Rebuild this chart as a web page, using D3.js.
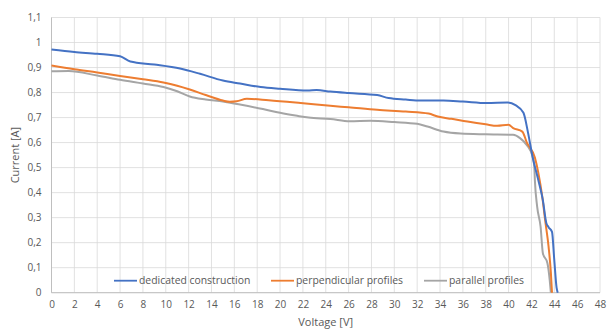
<!DOCTYPE html>
<html><head><meta charset="utf-8">
<script src="https://cdn.jsdelivr.net/npm/d3@7"></script>
<style>body{margin:0;background:#fff}svg{display:block}text{font-family:"Open Sans","Liberation Sans",sans-serif;fill:#595959}</style>
</head><body><svg id="c" width="608" height="329"></svg>
<script>
const seriesNames = ["dedicated construction","perpendicular profiles","parallel profiles"];
const colors = ["#4472C4","#ED7D31","#A5A5A5"];
const xTicks = d3.range(0,49,2);
const yTicks = [0,0.1,0.2,0.3,0.4,0.5,0.6,0.7,0.8,0.9,1,1.1];
const dedicatedV = [0,2,4,6,6.9,9,11.25,13,15,16.5,18.3,20,22.4,23.2,24.4,26,28.5,29.5,31,32.3,34.3,36,38.1,39.9,40.6,41.3,41.7,42.1,42.6,43.0,43.3,43.5,43.8,44.0,44.2,44.3];
const dedicatedI = [0.972,0.962,0.955,0.945,0.924,0.912,0.896,0.875,0.848,0.836,0.822,0.815,0.808,0.810,0.804,0.798,0.790,0.778,0.772,0.768,0.768,0.764,0.758,0.760,0.750,0.719,0.64,0.543,0.45,0.37,0.279,0.262,0.243,0.13,0.02,0];
const perpV = [0,2,4,6,8,9.8,11,12.1,13.5,15,15.6,16.2,17.1,19,21.8,24.4,26,28.5,31,33,33.8,35,36.4,38,39,40,40.4,41.2,41.6,42.3,42.6,42.95,43.2,43.5,43.7,43.8];
const perpI = [0.908,0.893,0.880,0.866,0.853,0.840,0.827,0.812,0.790,0.768,0.763,0.765,0.775,0.769,0.758,0.747,0.741,0.731,0.724,0.716,0.704,0.695,0.684,0.673,0.667,0.671,0.658,0.644,0.6,0.54,0.48,0.383,0.29,0.184,0.08,0];
const paraV = [0,1.5,4,6,8,9.8,11,12.1,13.5,15,16.5,18.5,20,21.5,22.5,24.4,26.1,27.9,30,32,32.9,34.3,35.8,38,40.4,41,41.6,42.1,42.25,42.3,42.5,42.8,43.0,43.4,43.6,43.7];
const paraI = [0.885,0.886,0.868,0.851,0.836,0.822,0.805,0.784,0.772,0.764,0.752,0.734,0.719,0.707,0.700,0.694,0.685,0.687,0.682,0.675,0.664,0.644,0.636,0.633,0.631,0.618,0.59,0.544,0.504,0.45,0.344,0.264,0.158,0.118,0.05,0];

const svg = d3.select("#c");
const L=51.5,R=600,T=17.5,B=292.7;
const x = d3.scaleLinear().domain([0,48]).range([L,R]);
const y = d3.scaleLinear().domain([0,1.1]).range([B,T]);

// grid
svg.append("g").selectAll("line").data(xTicks).join("line")
  .attr("x1",d=>x(d)).attr("x2",d=>x(d)).attr("y1",T).attr("y2",B)
  .attr("stroke","#D9D9D9").attr("stroke-width",0.8);
svg.append("g").selectAll("line").data(yTicks).join("line")
  .attr("x1",L).attr("x2",R).attr("y1",d=>y(d)).attr("y2",d=>y(d))
  .attr("stroke","#D9D9D9").attr("stroke-width",0.8);
svg.append("line").attr("x1",L).attr("x2",L).attr("y1",T).attr("y2",B).attr("stroke","#BFBFBF");
svg.append("line").attr("x1",L).attr("x2",R).attr("y1",B).attr("y2",B).attr("stroke","#BFBFBF");

// axes labels
const xAxis = d3.axisBottom(x).tickValues(xTicks).tickSize(0).tickPadding(8).tickFormat(d=>String(d));
const gx = svg.append("g").attr("transform",`translate(0,${B})`).call(xAxis);
gx.select(".domain").remove();
gx.selectAll("text").style("font-size","10px").style("font-family","'Open Sans',sans-serif").attr("fill","#595959");
const yAxis = d3.axisLeft(y).tickValues(yTicks).tickSize(0).tickPadding(10).tickFormat(d=>d3.format(".1~f")(d).replace(".",","));
const gy = svg.append("g").attr("transform",`translate(${L},0)`).call(yAxis);
gy.select(".domain").remove();
gy.selectAll("text").style("font-size","10px").style("font-family","'Open Sans',sans-serif").attr("fill","#595959");

svg.append("text").attr("x",325.7).attr("y",326).attr("text-anchor","middle").style("font-size","11px").text("Voltage [V]");
svg.append("text").attr("transform",`translate(19,${(T+B)/2}) rotate(-90)`).attr("text-anchor","middle").style("font-size","11px").text("Current [A]");

// lines
const data = [[dedicatedV,dedicatedI],[perpV,perpI],[paraV,paraI]];
const line = d3.line().x(d=>x(d[0])).y(d=>y(d[1])).curve(d3.curveMonotoneX);
[2,1,0].forEach(i=>{
  const pts = data[i][0].map((v,k)=>[v,data[i][1][k]]);
  svg.append("path").datum(pts).attr("d",line).attr("fill","none")
    .attr("stroke",colors[i]).attr("stroke-width",2).attr("stroke-linejoin","round");
});

// legend
const legX = [114,271,424];
const lg = svg.append("g");
seriesNames.forEach((n,i)=>{
  lg.append("line").attr("x1",legX[i]).attr("x2",legX[i]+23).attr("y1",280.7).attr("y2",280.7)
    .attr("stroke",colors[i]).attr("stroke-width",1.8);
  lg.append("text").attr("x",legX[i]+25).attr("y",284.3).style("font-size","10.4px").text(n);
});
</script></body></html>
